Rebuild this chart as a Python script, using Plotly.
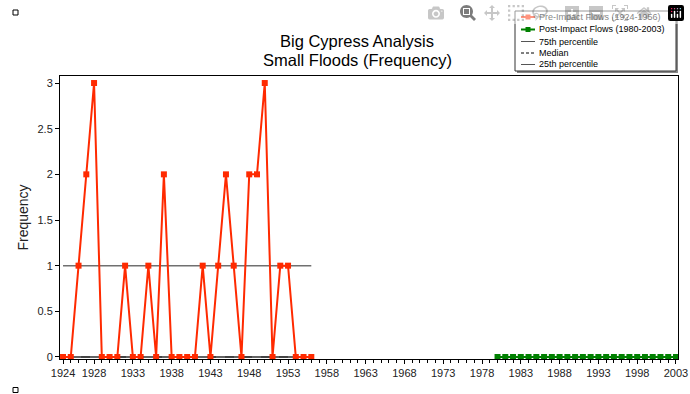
import plotly.graph_objects as go

pre_years = list(range(1924, 1957))
pre_values = [0, 0, 1, 2, 3, 0, 0, 0, 1, 0, 0, 1, 0, 2, 0, 0, 0, 0, 1, 0, 1, 2, 1, 0, 2, 2, 3, 0, 1, 1, 0, 0, 0]
post_years = list(range(1980, 2004))
post_values = [0] * len(post_years)
pct_years = [1924, 1956]
p75 = [1, 1]
median = [0, 0]
p25 = [0, 0]
tick_years = [1924, 1928, 1933, 1938, 1943, 1948, 1953, 1958, 1963, 1968, 1973, 1978, 1983, 1988, 1993, 1998, 2003]
y_ticks = [0, 0.5, 1, 1.5, 2, 2.5, 3]
legend_labels = ["Pre-Impact Flows (1924-1956)", "Post-Impact Flows (1980-2003)",
                 "75th percentile", "Median", "25th percentile"]
title_lines = ["Big Cypress Analysis", "Small Floods (Frequency)"]

RED = "#FF2A00"
GREEN = "#008000"

fig = go.Figure()
fig.add_trace(go.Scatter(x=pct_years, y=p75, mode="lines", name=legend_labels[2],
                         line=dict(color="#707070", width=1.5)))
fig.add_trace(go.Scatter(x=pct_years, y=median, mode="lines", name=legend_labels[3],
                         line=dict(color="black", width=1, dash="dash")))
fig.add_trace(go.Scatter(x=pct_years, y=p25, mode="lines", name=legend_labels[4],
                         line=dict(color="#303030", width=1.5)))
fig.add_trace(go.Scatter(x=pre_years, y=pre_values, mode="lines+markers", name=legend_labels[0],
                         line=dict(color=RED, width=2),
                         marker=dict(symbol="square", size=6, color=RED)))
fig.add_trace(go.Scatter(x=post_years, y=post_values, mode="lines+markers", name=legend_labels[1],
                         line=dict(color=GREEN, width=2),
                         marker=dict(symbol="square", size=6, color=GREEN)))

# body margin is removed by post_script, so figure pixels = screenshot pixels
FW, FH = 690, 394
# plot area in pixels
L, R, T, B = 60, 678, 76, 359
W, H = R - L, B - T


def px(x):
    return (x - L) / W


def py(y):
    return (B - y) / H


fig.update_layout(
    width=FW, height=FH,
    margin=dict(l=L, r=FW - R, t=T, b=FH - B, autoexpand=False),
    paper_bgcolor="white", plot_bgcolor="white",
    font=dict(family="Liberation Sans, Arial, sans-serif", color="black"),
    title=dict(text=title_lines[0], x=357 / FW, xanchor="center",
               y=1 - 41 / FH, yanchor="middle", font=dict(size=16.5, color="black")),
    showlegend=False,
    xaxis=dict(range=[1923.61, 2003.26], tickmode="array", tickvals=tick_years, automargin=False,
               ticklabeloverflow="allow",
               showgrid=False, zeroline=False, showline=True, linecolor="black", linewidth=1,
               mirror=True, ticks="outside", ticklen=4, tickcolor="black",
               tickfont=dict(size=11, color="#222222"),
               minor=dict(dtick=1, tick0=1924, ticks="outside", ticklen=3, tickcolor="black", showgrid=False)),
    yaxis=dict(range=[-0.022, 3.077], tickmode="array", tickvals=y_ticks, automargin=False,
               showgrid=False, zeroline=False, showline=True, linecolor="black", linewidth=1,
               mirror=True, ticks="outside", ticklen=4, tickcolor="black",
               tickfont=dict(size=11, color="#222222"),
               title=dict(text="Frequency", font=dict(size=14, color="#222222"), standoff=5)),
)

fig.add_annotation(xref="paper", yref="paper", x=px(357), y=py(59.5), xanchor="center", yanchor="middle",
                   text=title_lines[1], showarrow=False, font=dict(size=16.5, color="black"))

# manual legend box
fig.add_shape(type="rect", xref="paper", yref="paper",
              x0=px(517), x1=px(678), y0=py(73), y1=py(13),
              line=dict(width=0), fillcolor="#888888")
fig.add_shape(type="rect", xref="paper", yref="paper",
              x0=px(515), x1=px(676), y0=py(71), y1=py(11),
              line=dict(color="#333333", width=1), fillcolor="white")
entry_y = [17, 29.5, 41.5, 53, 64.5]
styles = [
    dict(color=RED, width=2, dash="solid", marker=RED),
    dict(color=GREEN, width=2, dash="solid", marker=GREEN),
    dict(color="#555555", width=1, dash="solid", marker=None),
    dict(color="black", width=1, dash="3px,2px", marker=None),
    dict(color="#555555", width=1, dash="solid", marker=None),
]
for label, yy, st in zip(legend_labels, entry_y, styles):
    fig.add_shape(type="line", xref="paper", yref="paper",
                  x0=px(521), x1=px(535), y0=py(yy), y1=py(yy),
                  line=dict(color=st["color"], width=st["width"], dash=st["dash"]))
    if st["marker"]:
        fig.add_shape(type="rect", xref="paper", yref="paper",
                      x0=px(525.5), x1=px(530.5), y0=py(yy + 2.5), y1=py(yy - 2.5),
                      line=dict(width=0), fillcolor=st["marker"])
    fig.add_annotation(xref="paper", yref="paper", x=px(537), y=py(yy), xanchor="left", yanchor="middle",
                       text=label, showarrow=False, font=dict(size=9, color="black"))

for ycen in [12.5, 390]:
    fig.add_shape(type="rect", xref="paper", yref="paper",
                  x0=px(13), x1=px(18), y0=py(ycen + 2.5), y1=py(ycen - 2.5),
                  line=dict(color="black", width=1), fillcolor="white")

fig.write_html("out.html",
               post_script="document.body.style.margin='0px'; document.body.style.overflow='hidden';")
